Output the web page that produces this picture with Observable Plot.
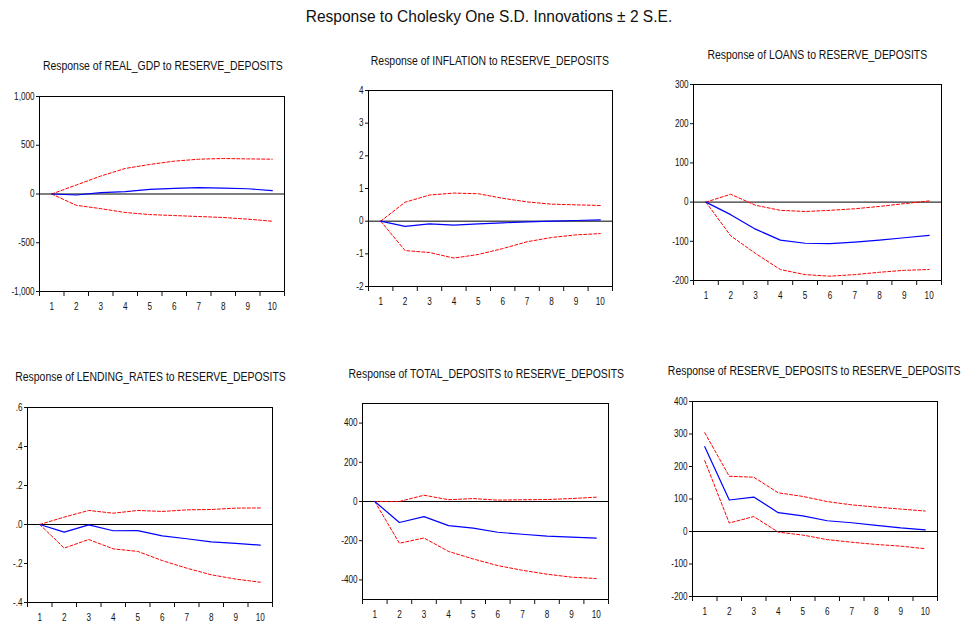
<!DOCTYPE html>
<html><head><meta charset="utf-8">
<script src="https://cdn.jsdelivr.net/npm/d3@7"></script>
<script src="https://cdn.jsdelivr.net/npm/@observablehq/plot@0.6"></script>
<style>
body{margin:0;background:#fff;}
#root{position:relative;width:963px;height:625px;overflow:hidden;font-family:"Liberation Sans Narrow","Arial Narrow","Liberation Sans",Arial,sans-serif;color:#111;}
.t{position:absolute;white-space:nowrap;line-height:1;transform-origin:50% 50%;}
#root svg{position:absolute;}
</style></head><body><div id="root"></div>
<script>
// ---- data ----
const periods = [1,2,3,4,5,6,7,8,9,10];
const mainTitle = "Response to Cholesky One S.D. Innovations \u00b1 2 S.E.";
const panelTitles = [
  "Response of REAL_GDP to RESERVE_DEPOSITS",
  "Response of INFLATION to RESERVE_DEPOSITS",
  "Response of LOANS to RESERVE_DEPOSITS",
  "Response of LENDING_RATES to RESERVE_DEPOSITS",
  "Response of TOTAL_DEPOSITS to RESERVE_DEPOSITS",
  "Response of RESERVE_DEPOSITS to RESERVE_DEPOSITS"
];

const gdpResponse = [0, -10, 14, 24, 48, 58, 65, 61, 54, 34];
const gdpUpper    = [0, 92, 184, 262, 303, 337, 357, 364, 360, 357];
const gdpLower    = [0, -116, -150, -190, -211, -221, -231, -241, -258, -279];
const gdpTicks    = [-1000, -500, 0, 500, 1000];

const inflationResponse = [0, -0.16, -0.08, -0.12, -0.08, -0.05, -0.02, 0.0, 0.02, 0.04];
const inflationUpper    = [0, 0.58, 0.80, 0.86, 0.84, 0.70, 0.59, 0.52, 0.50, 0.48];
const inflationLower    = [0, -0.90, -0.96, -1.13, -1.02, -0.84, -0.63, -0.50, -0.42, -0.38];
const inflationTicks    = [-2, -1, 0, 1, 2, 3, 4];

const loansResponse = [0, -32, -69, -97, -105, -106, -102, -97, -91, -85];
const loansUpper    = [0, 20, -8, -21, -24, -21, -17, -11, -4, 3];
const loansLower    = [0, -86, -131, -172, -185, -189, -185, -179, -174, -172];
const loansTicks    = [-200, -100, 0, 100, 200, 300];

const lendingResponse = [0, -0.039, -0.002, -0.032, -0.031, -0.058, -0.073, -0.089, -0.097, -0.106];
const lendingUpper    = [0, 0.038, 0.072, 0.058, 0.072, 0.067, 0.075, 0.077, 0.084, 0.085];
const lendingLower    = [0, -0.121, -0.077, -0.125, -0.138, -0.185, -0.224, -0.258, -0.280, -0.296];
const lendingTicks    = [-0.4, -0.2, 0, 0.2, 0.4, 0.6];

const depositsResponse = [0, -107, -77, -123, -136, -157, -167, -177, -182, -187];
const depositsUpper    = [0, 0, 32, 9, 15, 7, 9, 10, 15, 22];
const depositsLower    = [0, -213, -186, -255, -293, -327, -351, -371, -386, -393];
const depositsTicks    = [-400, -200, 0, 200, 400];

const reserveResponse = [261, 97, 106, 58, 48, 33, 27, 19, 11, 5];
const reserveUpper    = [304, 170, 167, 119, 108, 92, 82, 75, 69, 63];
const reserveLower    = [218, 26, 46, -2, -11, -25, -33, -40, -45, -53];
const reserveTicks    = [-200, -100, 0, 100, 200, 300, 400];

// ---- formats ----
const commaFmt = v => d3.format(",")(v).replace("\u2212", "-");
const plainFmt = v => String(v);
const decFmt = v => d3.format(".1f")(v).replace("\u2212", "-").replace(/^(-?)0\./, "$1.");

// ---- layout ----
const FONT = '"Liberation Sans Narrow","Arial Narrow","Liberation Sans",Arial,sans-serif';
const panels = [
  {title: panelTitles[0], resp: gdpResponse, hi: gdpUpper, lo: gdpLower, ticks: gdpTicks, domain: [-1000, 1000], fmt: commaFmt,
   frame: {left: 39, top: 96, right: 284, bottom: 291}, tx: 162.5, ty: 66},
  {title: panelTitles[1], resp: inflationResponse, hi: inflationUpper, lo: inflationLower, ticks: inflationTicks, domain: [-2, 4], fmt: plainFmt,
   frame: {left: 368, top: 90, right: 612, bottom: 286}, tx: 490, ty: 60.7},
  {title: panelTitles[2], resp: loansResponse, hi: loansUpper, lo: loansLower, ticks: loansTicks, domain: [-200, 300], fmt: plainFmt,
   frame: {left: 693, top: 84, right: 941, bottom: 280}, tx: 817.3, ty: 55},
  {title: panelTitles[3], resp: lendingResponse, hi: lendingUpper, lo: lendingLower, ticks: lendingTicks, domain: [-0.4, 0.6], fmt: decFmt,
   frame: {left: 27, top: 407, right: 272, bottom: 602}, tx: 150.5, ty: 377.3},
  {title: panelTitles[4], resp: depositsResponse, hi: depositsUpper, lo: depositsLower, ticks: depositsTicks, domain: [-500, 500], fmt: plainFmt,
   frame: {left: 362, top: 403, right: 608, bottom: 599}, tx: 485.8, ty: 374},
  {title: panelTitles[5], resp: reserveResponse, hi: reserveUpper, lo: reserveLower, ticks: reserveTicks, domain: [-200, 400], fmt: plainFmt,
   frame: {left: 692, top: 401, right: 937, bottom: 596}, tx: 814.5, ty: 371}
];

const root = document.getElementById("root");
function addText(txt, cx, cy, size, sx) {
  const d = document.createElement("div");
  d.className = "t";
  d.textContent = txt;
  d.style.fontSize = size + "px";
  root.appendChild(d);
  const w = d.getBoundingClientRect().width;
  d.style.left = (cx - w / 2) + "px";
  d.style.top = (cy - 0.49 * size) + "px";
  d.style.transform = `scaleX(${sx})`;
}
addText(mainTitle, 489, 17, 16, 0.97);

const boundaries = periods.map(t => t - 0.5).concat([periods[periods.length - 1] + 0.5]);

// horizontally condense SVG texts around their anchor point (needs the svg in the DOM)
function condenseTexts(svg, k) {
  svg.querySelectorAll("text").forEach(el => {
    if (!el.textContent) return;
    const b = el.getBBox();
    const anchor = getComputedStyle(el).textAnchor;
    const ax = anchor === "end" ? b.x + b.width : anchor === "middle" ? b.x + b.width / 2 : b.x;
    const t = el.getAttribute("transform") || "";
    el.setAttribute("transform", `${t} translate(${ax},0) scale(${k},1) translate(${-ax},0)`);
  });
}

for (const p of panels) {
  const mL = 42, mR = 6, mT = 6, mB = 26;
  const f = p.frame;
  const W = (f.right - f.left) + mL + mR, H = (f.bottom - f.top) + mT + mB;
  const rows = periods.map((t, i) => ({t, r: p.resp[i], hi: p.hi[i], lo: p.lo[i]}));
  const chart = Plot.plot({
    width: W, height: H, marginLeft: mL, marginRight: mR, marginTop: mT, marginBottom: mB,
    style: {background: "transparent", fontFamily: FONT, fontSize: "10px", color: "#111", overflow: "visible"},
    x: {type: "linear", domain: [0.5, 10.5]},
    y: {domain: p.domain},
    marks: [
      Plot.ruleY([0], {stroke: "#000", strokeWidth: 1}),
      Plot.line(rows, {x: "t", y: "hi", stroke: "#ff0000", strokeWidth: 1, strokeDasharray: "3,2"}),
      Plot.line(rows, {x: "t", y: "lo", stroke: "#ff0000", strokeWidth: 1, strokeDasharray: "3,2"}),
      Plot.line(rows, {x: "t", y: "r", stroke: "#0000ff", strokeWidth: 1.2}),
      Plot.frame({stroke: "#000", strokeWidth: 1}),
      Plot.axisY({ticks: p.ticks, tickSize: 3, tickPadding: 2, tickFormat: p.fmt, label: null}),
      Plot.axisX({ticks: boundaries, tickSize: 5, tickFormat: () => "", label: null}),
      Plot.axisX({ticks: periods, tickSize: 0, tickPadding: 11, tickFormat: d => String(d), label: null})
    ]
  });
  chart.style.left = (f.left - mL) + "px";
  chart.style.top = (f.top - mT) + "px";
  root.appendChild(chart);
  condenseTexts(chart, 0.82);
  addText(p.title, p.tx, p.ty, 12, 0.87);
}
</script>
</body></html>
